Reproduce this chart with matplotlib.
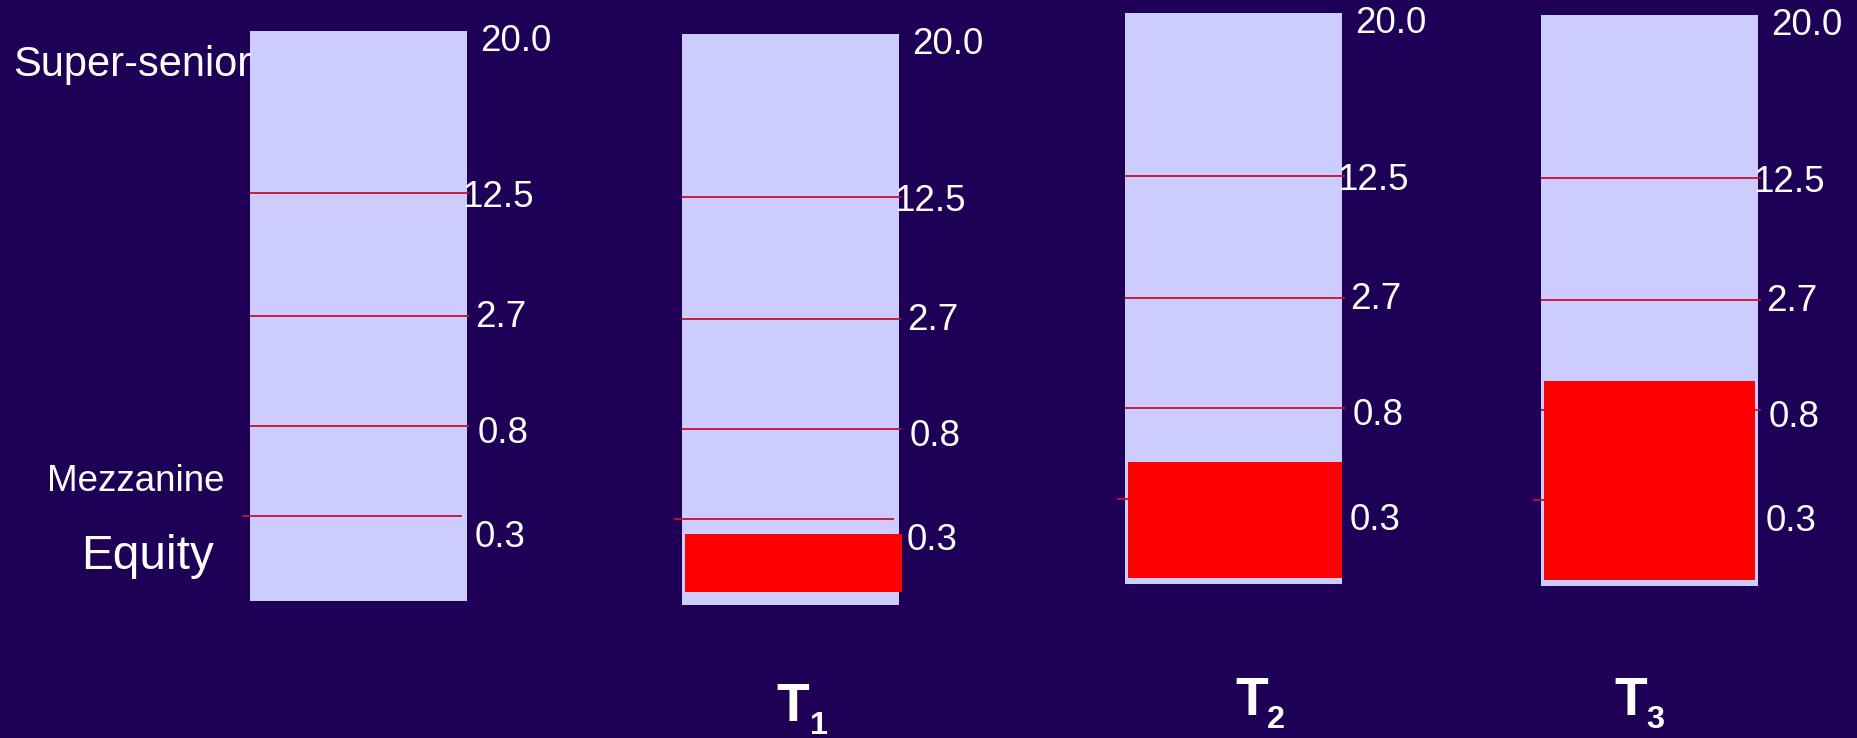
import numpy as np
import matplotlib
matplotlib.use("Agg")
import matplotlib.pyplot as plt

# ---- data ----
attach_points = [0.3, 0.8, 2.7, 12.5, 20.0]            # tranche boundaries (% of portfolio)
attach_labels = ["0.3", "0.8", "2.7", "12.5", "20.0"]
tranche_names = ["Super-senior", "Mezzanine", "Equity"]
time_subscripts = ["", "1", "2", "3"]                   # T_1, T_2, T_3 (first panel: start)
portfolio_loss = [0.0, 0.25, 0.5, 1.3]                  # cumulative portfolio loss (%)

# ---- styling / layout ----
W, H, DPI = 1857, 738, 100
BG = "#1E0057"
BAR = "#CCCCFF"
LOSS = "#FF0000"
LINE = "#C8102E"
WHITE = "white"
plt.rcParams["font.family"] = ["Liberation Sans", "DejaVu Sans"]

# schematic vertical axis: share of the bar height reached at each boundary
boundary_frac = np.array([0.0, 0.149, 0.308, 0.50, 0.715, 1.0])
knots = np.array([0.0] + attach_points)


def forward(v):
    return np.interp(v, knots, boundary_frac)


def inverse(p):
    return np.interp(p, boundary_frac, knots)


# panel rectangles in pixels: left, top, right, bottom
panels_px = [(250, 30.8, 467, 601.4),
             (682, 34.0, 899, 604.5),
             (1125, 13.2, 1342, 583.5),
             (1541, 15.0, 1758, 585.5)]
loss_pad_bottom = [0, 13, 6, 5.5]       # px gap under the loss block
loss_pad_right = [0, 3, 0, -3]          # px overhang of the loss block on the right
loss_pad_left = 3

# boundary line extents (px relative to bar edges) and label offsets
line_ext = {0.3: (-8, -5)}
line_ext_default = (0, 2.5)
label_dx = [7.5, 10.5, 8, -5, 13]       # px from bar right edge
label_dy = [31, 17, 11, 14, 20]         # px from boundary down to baseline

# time labels: (T origin x, T baseline y, sub origin x, sub baseline y) in px
time_pos = [None,
            (776, 721, 810, 734),
            (1235, 715, 1267, 728.3),
            (1614, 715, 1646, 728)]

fig = plt.figure(figsize=(W / DPI, H / DPI), dpi=DPI, facecolor=BG)


def fx(px):
    return px / W


def fy(py):
    return 1 - py / H


for i, (l, t, r, b) in enumerate(panels_px):
    wpx, hpx = r - l, b - t
    ax = fig.add_axes([fx(l), fy(b), wpx / W, hpx / H])
    ax.set_yscale("function", functions=(forward, inverse))
    ax.set_xlim(0, 1)
    ax.set_ylim(0, attach_points[-1])
    ax.axis("off")

    # the whole capital structure
    ax.bar(0, attach_points[-1], width=1, bottom=0, align="edge",
           color=BAR, linewidth=0, zorder=1)

    # tranche boundaries
    ytr = ax.get_yaxis_transform()
    for v in attach_points[:-1]:
        e0, e1 = line_ext.get(v, line_ext_default)
        ax.plot([e0 / wpx, 1 + e1 / wpx], [v, v], color=LINE, lw=1.3,
                transform=ytr, clip_on=False, solid_capstyle="butt", zorder=2)

    # accumulated loss
    loss = portfolio_loss[i]
    if loss > 0:
        y0 = inverse(loss_pad_bottom[i] / hpx)
        x0 = loss_pad_left / wpx
        x1 = 1 + loss_pad_right[i] / wpx
        ax.bar(x0, loss - y0, width=x1 - x0, bottom=y0, align="edge",
               color=LOSS, linewidth=0, zorder=3, clip_on=False)

    # boundary values
    for v, lab, dx, dy in zip(attach_points, attach_labels, label_dx, label_dy):
        ax.annotate(lab, xy=(1, v), xycoords=ytr, xytext=(dx, -dy),
                    textcoords="offset pixels", ha="left", va="baseline",
                    fontsize=26.5, color=WHITE, annotation_clip=False, zorder=5)

    # time label
    if time_pos[i] is not None:
        tx, ty, sx, sy = time_pos[i]
        fig.text(fx(tx), fy(ty), "T", fontsize=38.5, fontweight="bold",
                 color=WHITE, ha="left", va="baseline")
        fig.text(fx(sx), fy(sy), time_subscripts[i], fontsize=23.4,
                 fontweight="bold", color=WHITE, ha="left", va="baseline")

# tranche names beside the first bar
name_style = [(13, 76, 30), (47, 491, 26.5), (81, 568.6, 34.4)]
for name, (x, y, fs) in zip(tranche_names, name_style):
    fig.text(fx(x), fy(y), name, fontsize=fs, color=WHITE,
             ha="left", va="baseline", zorder=10)

fig.savefig("out.png", dpi=DPI, facecolor=BG)
